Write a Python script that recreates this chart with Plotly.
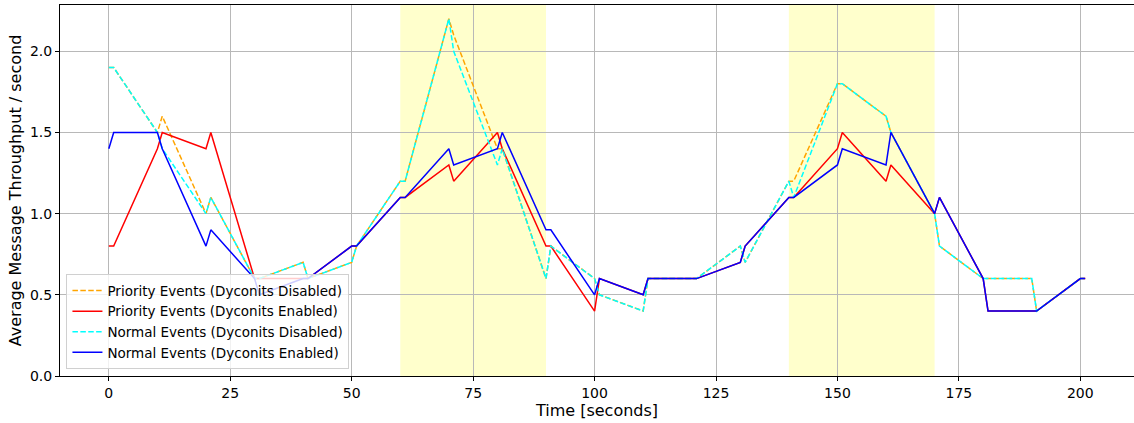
import plotly.graph_objects as go

time_s = [0, 1, 10, 11, 20, 21, 30, 31, 40, 41, 50, 51, 60, 61, 70, 71, 80, 81, 90, 91,
          100, 101, 110, 111, 120, 121, 130, 131, 140, 141, 150, 151, 160, 161, 170, 171,
          180, 181, 190, 191, 200, 201]

priority_disabled = [1.9, 1.9, 1.5, 1.6, 1.0, 1.1, 0.6, 0.6, 0.7, 0.6, 0.7, 0.8, 1.2, 1.2,
                     2.2, 2.1, 1.4, 1.4, 0.6, 0.8, 0.6, 0.5, 0.4, 0.6, 0.6, 0.6, 0.8, 0.7,
                     1.2, 1.2, 1.8, 1.8, 1.6, 1.5, 1.0, 0.8, 0.6, 0.6, 0.6, 0.4, 0.6, 0.6]

priority_enabled = [0.8, 0.8, 1.4, 1.5, 1.4, 1.5, 0.6, 0.6, 0.6, 0.6, 0.8, 0.8, 1.1, 1.1,
                    1.3, 1.2, 1.5, 1.4, 0.8, 0.8, 0.4, 0.6, 0.5, 0.6, 0.6, 0.6, 0.7, 0.8,
                    1.1, 1.1, 1.4, 1.5, 1.2, 1.3, 1.0, 1.1, 0.6, 0.4, 0.4, 0.4, 0.6, 0.6]

normal_disabled = [1.9, 1.9, 1.5, 1.4, 1.0, 1.1, 0.6, 0.6, 0.7, 0.6, 0.7, 0.8, 1.2, 1.2,
                   2.2, 2.0, 1.3, 1.4, 0.6, 0.8, 0.6, 0.5, 0.4, 0.6, 0.6, 0.6, 0.8, 0.7,
                   1.2, 1.1, 1.8, 1.8, 1.6, 1.5, 1.0, 0.8, 0.6, 0.6, 0.6, 0.4, 0.6, 0.6]

normal_enabled = [1.4, 1.5, 1.5, 1.4, 0.8, 0.9, 0.6, 0.5, 0.6, 0.6, 0.8, 0.8, 1.1, 1.1,
                  1.4, 1.3, 1.4, 1.5, 0.9, 0.9, 0.5, 0.6, 0.5, 0.6, 0.6, 0.6, 0.7, 0.8,
                  1.1, 1.1, 1.3, 1.4, 1.3, 1.5, 1.0, 1.1, 0.6, 0.4, 0.4, 0.4, 0.6, 0.6]

highlight_spans = [(60, 90), (140, 170)]

series = [
    ("Priority Events (Dyconits Disabled)", priority_disabled, "orange", "5.5px,2.4px"),
    ("Priority Events (Dyconits Enabled)", priority_enabled, "red", "solid"),
    ("Normal Events (Dyconits Disabled)", normal_disabled, "cyan", "5.5px,2.4px"),
    ("Normal Events (Dyconits Enabled)", normal_enabled, "blue", "solid"),
]

fig = go.Figure()
for name, vals, color, dash in series:
    fig.add_trace(go.Scatter(x=time_s, y=vals, mode="lines", name=name,
                             line=dict(color=color, width=1.5, dash=dash)))

for x0, x1 in highlight_spans:
    fig.add_vrect(x0=x0, x1=x1, fillcolor="rgb(255,255,204)", opacity=1,
                  line_width=0, layer="below")

font_family = "DejaVu Sans"
axis_common = dict(showline=True, mirror=True, linecolor="black", linewidth=1,
                   ticks="outside", ticklen=4, tickwidth=1, tickcolor="black",
                   showgrid=True, gridcolor="#b8b8b8", gridwidth=1, zeroline=False,
                   automargin=False,
                   tickfont=dict(family=font_family, size=14, color="black"))

fig.update_layout(
    width=1134, height=423,
    margin=dict(l=60, r=0, t=5, b=47, autoexpand=False),
    plot_bgcolor="white", paper_bgcolor="white",
    font=dict(family=font_family, color="black"),
    showlegend=True,
    legend=dict(x=0.006, y=0.018, xanchor="left", yanchor="bottom",
                bgcolor="rgba(255,255,255,0.8)", bordercolor="#d0d0d0", borderwidth=1,
                font=dict(family=font_family, size=13.5, color="black"),
                tracegroupgap=0, itemwidth=30),
    xaxis=dict(range=[-10.05, 211.05], tickvals=[0, 25, 50, 75, 100, 125, 150, 175, 200],
               title=dict(text="Time [seconds]", font=dict(family=font_family, size=16),
                          standoff=4),
               **axis_common),
    yaxis=dict(range=[0, 2.285], tickvals=[0, 0.5, 1.0, 1.5, 2.0], tickformat=".1f",
               title=dict(text="Average Message Throughput / second",
                          font=dict(family=font_family, size=16), standoff=4),
               **axis_common),
)

fig.write_html("out.html", config={"displayModeBar": False},
               post_script="document.body.style.margin='0';")
